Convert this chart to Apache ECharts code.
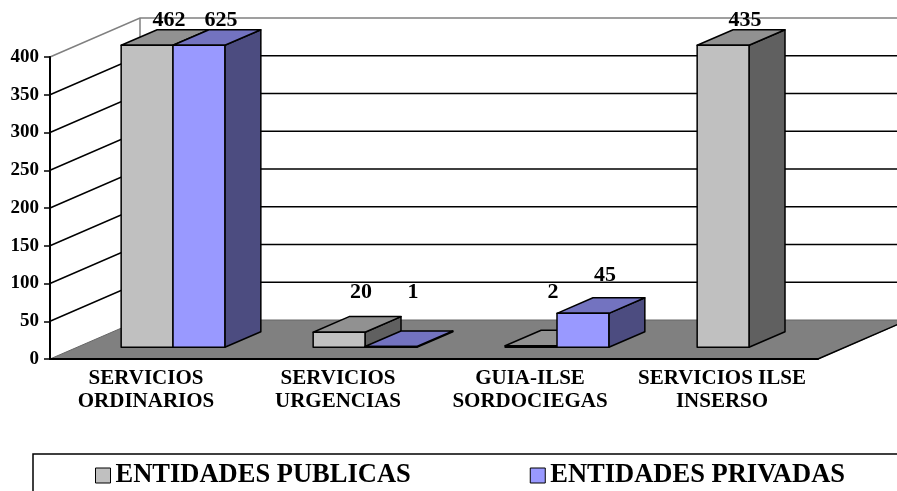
<!DOCTYPE html>
<html>
<head>
<meta charset="utf-8">
<script src="https://cdn.jsdelivr.net/npm/echarts@6/dist/echarts.min.js"></script>
<style>
  html, body { margin: 0; padding: 0; background: #fff; }
  #chart { width: 897px; height: 491px; }
</style>
</head>
<body>
<div id="chart"></div>
<script>
const categories = ['SERVICIOS\nORDINARIOS', 'SERVICIOS\nURGENCIAS', 'GUIA-ILSE\nSORDOCIEGAS', 'SERVICIOS ILSE\nINSERSO'];
const publicas = [462, 20, 2, 435];
const privadas = [625, 1, 45, null];
const yTicks = [0, 50, 100, 150, 200, 250, 300, 350, 400];

const Y_MAX = 400;
// oblique depth of the 3d box (px)
const DX = 90, DY = -39;
const FONT = 'Liberation Serif';

const chart = echarts.init(document.getElementById('chart'));

function sceneItem(params, api) {
  const cs = params.coordSys;
  const t = api.value(1);
  const y = api.coord([0, t])[1];
  const x0 = cs.x;
  const x1 = cs.x + cs.width;
  if (params.dataIndex === 0) {
    const yTop = api.coord([0, Y_MAX])[1];
    return {
      type: 'group',
      children: [
        { type: 'polygon',
          shape: { points: [[x0, y], [x1, y], [x1 + DX, y + DY], [x0 + DX, y + DY]] },
          style: { fill: '#808080', stroke: '#666', lineWidth: 1 } },
        { type: 'line',
          shape: { x1: x1, y1: y, x2: x1 + DX, y2: y + DY },
          style: { stroke: '#000', lineWidth: 1.5 } },
        { type: 'line',
          shape: { x1: x0 + DX, y1: yTop + DY, x2: x0 + DX, y2: y + DY },
          style: { stroke: '#808080', lineWidth: 1.5 } }
      ]
    };
  }
  const col = t === Y_MAX ? '#808080' : '#000';
  return {
    type: 'polyline',
    shape: { points: [[x0, y], [x0 + DX, y + DY], [x1 + DX, y + DY]] },
    style: { stroke: col, lineWidth: 1.5, fill: null }
  };
}

function makeBar(side, front, top, right) {
  return function (params, api) {
    const raw = api.value(1);
    if (raw == null || isNaN(raw)) return;
    const v = Math.min(raw, Y_MAX);
    const band = api.size([1, 0])[0];
    const w = band * 0.27;
    const fx = DX * 0.3, fy = DY * 0.3;
    const bx = DX * 0.4, by = DY * 0.4;
    const base = api.coord([api.value(0), 0]);
    const yb = base[1] + fy;
    const yt = api.coord([api.value(0), v])[1] + fy;
    const xa = base[0] + fx + (side === 0 ? -w : 0);
    const xb = xa + w;
    const line = { stroke: '#000', lineWidth: 1.5, lineJoin: 'round' };
    const ly = Math.max(Math.min(yt + by - 22, yb - 55), 20);
    return {
      type: 'group',
      children: [
        { type: 'polygon', shape: { points: [[xb, yt], [xb + bx, yt + by], [xb + bx, yb + by], [xb, yb]] },
          style: Object.assign({ fill: right }, line) },
        { type: 'polygon', shape: { points: [[xa, yt], [xb, yt], [xb + bx, yt + by], [xa + bx, yt + by]] },
          style: Object.assign({ fill: top }, line) },
        { type: 'rect', shape: { x: xa, y: yt, width: w, height: yb - yt },
          style: Object.assign({ fill: front }, line) },
        { type: 'text', x: xa + w / 2 + 22, y: ly,
          style: { text: String(raw), fill: '#000', font: 'bold 22px "' + FONT + '"',
                   textAlign: 'center', textVerticalAlign: 'middle' } }
      ]
    };
  };
}

chart.setOption({
  animation: false,
  backgroundColor: '#fff',
  grid: { left: 50, right: 79, top: 57, bottom: 132 },
  xAxis: {
    type: 'category',
    data: categories,
    z: 10,
    axisLine: { lineStyle: { color: '#000', width: 2 } },
    axisTick: { length: 6, lineStyle: { color: '#000', width: 1.5 } },
    axisLabel: { interval: 0, color: '#000', fontFamily: FONT, fontWeight: 'bold', fontSize: 21, lineHeight: 23, margin: 8 },
    splitLine: { show: false }
  },
  yAxis: {
    type: 'value',
    min: 0,
    max: Y_MAX,
    interval: 50,
    z: 10,
    axisLine: { show: true, lineStyle: { color: '#000', width: 2 } },
    axisTick: { show: true, length: 6, lineStyle: { color: '#000', width: 1.5 } },
    axisLabel: { color: '#000', fontFamily: FONT, fontWeight: 'bold', fontSize: 19, margin: 11 },
    splitLine: { show: false }
  },
  legend: {
    data: ['ENTIDADES PUBLICAS', 'ENTIDADES PRIVADAS'],
    orient: 'horizontal',
    left: 33,
    top: 454,
    width: 880,
    padding: [8, 100, 40, 62],
    itemGap: 119,
    itemWidth: 15,
    itemHeight: 15,
    icon: 'rect',
    borderColor: '#000',
    borderWidth: 1.5,
    itemStyle: { borderColor: '#000', borderWidth: 1 },
    textStyle: { color: '#000', fontFamily: FONT, fontWeight: 'bold', fontSize: 26.5 }
  },
  series: [
    {
      name: 'scene',
      type: 'custom',
      renderItem: sceneItem,
      silent: true,
      data: yTicks.map(t => [0, t]),
      z: 1
    },
    {
      name: 'ENTIDADES PUBLICAS',
      type: 'custom',
      itemStyle: { color: '#C0C0C0' },
      renderItem: makeBar(0, '#C0C0C0', '#919191', '#606060'),
      data: publicas.map((v, i) => [i, v]),
      z: 2
    },
    {
      name: 'ENTIDADES PRIVADAS',
      type: 'custom',
      itemStyle: { color: '#9999FF' },
      renderItem: makeBar(1, '#9999FF', '#7373C0', '#4C4C80'),
      data: privadas.map((v, i) => [i, v]),
      z: 2
    }
  ]
});
</script>
</body>
</html>
